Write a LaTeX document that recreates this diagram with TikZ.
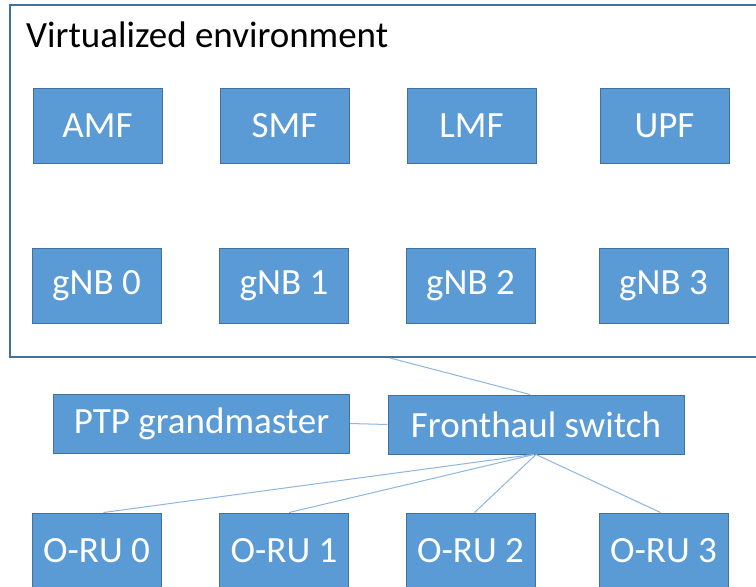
\documentclass[tikz,border=0pt]{standalone}
\usepackage{fontspec}
\setmainfont{Carlito}
\definecolor{boxfill}{HTML}{5B9BD5}
\definecolor{boxline}{HTML}{41719C}
\definecolor{linkline}{HTML}{8DB6E0}
\tikzset{
  fnbox/.style={draw=boxline, line width=1pt, fill=boxfill, text=white,
    inner sep=0pt, minimum width=129pt, minimum height=75pt,
    font=\fontsize{37}{44}\selectfont},
  widebox/.style={fnbox, minimum width=296pt, minimum height=59pt},
  container/.style={draw=boxline, line width=2pt, inner sep=0pt},
  link/.style={draw=linkline, line width=1pt},
}
\begin{document}
\begin{tikzpicture}[x=1pt, y=-1pt]
  \clip (0,0) rectangle (756,587);
  \fill[white] (0,0) rectangle (756,587);

  % virtualized environment container
  \node[container, minimum width=790pt, minimum height=352pt] (venv) at (405,181) {};
  \node[anchor=base west, inner sep=0pt, font=\fontsize{37}{44}\selectfont] (title) at (26,47) {Virtualized environment};

  % core network functions
  \node[fnbox] (amf) at (97.5,125.5) {AMF};
  \node[fnbox] (smf) at (284.5,125.5) {SMF};
  \node[fnbox] (lmf) at (471.5,125.5) {LMF};
  \node[fnbox] (upf) at (664.5,125.5) {UPF};

  % base stations
  \node[fnbox] (gnb0) at (96.5,285.5) {gNB 0};
  \node[fnbox] (gnb1) at (284,285.5) {gNB 1};
  \node[fnbox] (gnb2) at (470.5,285.5) {gNB 2};
  \node[fnbox] (gnb3) at (663.5,285.5) {gNB 3};

  % timing and switching
  \node[widebox] (ptp) at (201.5,423.5) {PTP grandmaster};
  \node[widebox] (fh) at (536,424.5) {Fronthaul switch};

  % radio units
  \node[fnbox] (oru0) at (96.5,550.5) {O-RU 0};
  \node[fnbox] (oru1) at (284,550.5) {O-RU 1};
  \node[fnbox] (oru2) at (470.5,550.5) {O-RU 2};
  \node[fnbox] (oru3) at (663.5,550.5) {O-RU 3};

  % links
  \coordinate (vlink) at (390,358);
  \path[link] (vlink) -- ([xshift=-6pt]fh.north);
  \path[link] (ptp.east) -- (fh.west);
  \path[link] ([xshift=-3pt]fh.south) -- ([xshift=7pt]oru0.north);
  \path[link] ([xshift=-2pt]fh.south) -- ([xshift=5pt]oru1.north);
  \path[link] (fh.south) -- ([xshift=4pt]oru2.north);
  \path[link] (fh.south) -- ([xshift=-3pt]oru3.north);
\end{tikzpicture}
\end{document}
